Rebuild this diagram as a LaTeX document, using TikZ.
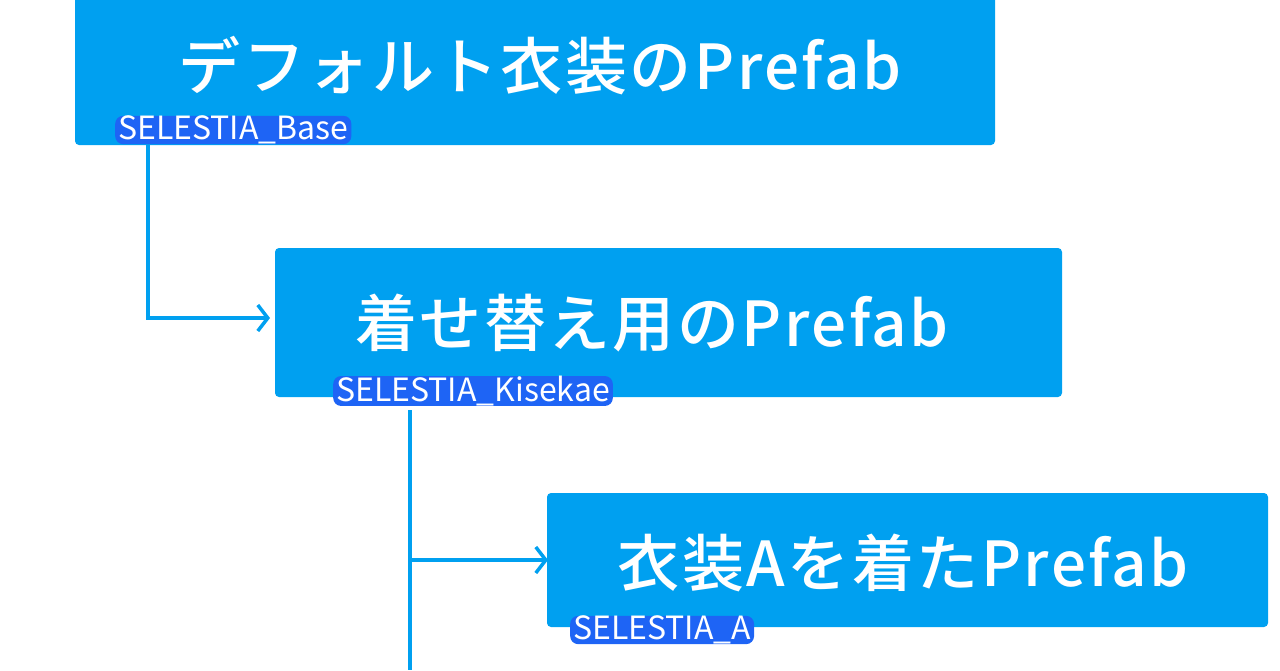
\documentclass[tikz,border=0pt]{standalone}
\usepackage{fontspec}
\setmainfont{Noto Sans CJK JP}
\newfontfamily\titlefont[LetterSpace=4]{Noto Sans CJK JP Medium}
\usetikzlibrary{arrows.meta}
\definecolor{boxc}{RGB}{0,160,240}
\definecolor{lblc}{RGB}{30,100,245}
\begin{document}
\begin{tikzpicture}[x=1pt,y=-1pt,
  card/.style={fill=boxc,rounded corners=4pt,inner sep=0},
  title/.style={text=white,font=\titlefont\fontsize{62}{62}\selectfont,inner sep=0},
  lbl/.style={fill=lblc,text=white,rounded corners=8pt,inner xsep=3pt,inner ysep=0pt,font=\fontsize{32}{34}\selectfont},
  conn/.style={draw=boxc,line width=3.5pt,-{Straight Barb[length=10pt,width=26pt,line width=3.5pt]}}]
\useasboundingbox (0,0) rectangle (1280,670);
\fill[card] (75,-5) rectangle (995,145);
\fill[card] (275,248) rectangle (1062,397);
\fill[card] (547,493) rectangle (1268,627);
\node[title] (t1) at (540,66) {デフォルト衣装のPrefab};
\node[title] (t2) at (652,323) {着せ替え用のPrefab};
\node[title] (t3) at (903,563) {衣装Aを着たPrefab};
\node[lbl,anchor=west] (l1) at (115,130) {SELESTIA\_Base};
\node[lbl,anchor=west] (l2) at (333,391) {SELESTIA\_Kisekae};
\node[lbl,anchor=west] (l3) at (570,630) {SELESTIA\_A};
\coordinate (a1) at (148,145);
\coordinate (e1) at (270,318);
\coordinate (a2) at (410,410);
\coordinate (b2) at (410,560);
\coordinate (e2) at (548,560);
\coordinate (z2) at (410,670);
\draw[conn] (a1) |- (e1);
\draw[draw=boxc,line width=3.5pt] (a2) -- (z2);
\draw[conn] (b2) -- (e2);
\end{tikzpicture}
\end{document}
